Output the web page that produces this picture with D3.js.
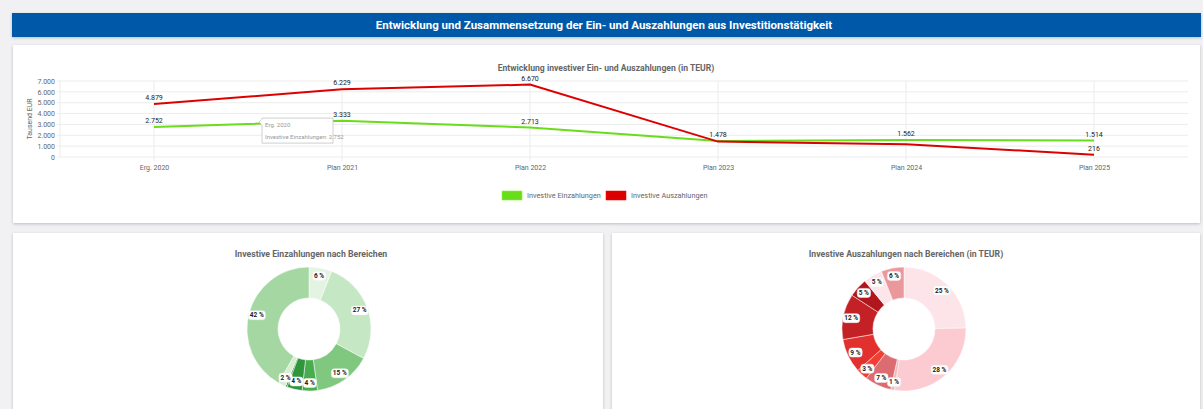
<!DOCTYPE html>
<html lang="de">
<head>
<meta charset="UTF-8">
<title>Investitionstätigkeit</title>
<style type="text/css">
  body { margin: 0; background: #f1f1f3; font-family: Roboto, "Noto Sans", sans-serif; }
  svg text { font-family: Roboto, "Noto Sans", sans-serif; }
  .grid line { stroke: #ececec; stroke-width: 1px; }
  .axis text { fill: #666; font-size: 7px; }
  .axis path, .axis line { stroke: #e6e6e6; }
</style>
</head>
<body>
<svg id="chart" width="1203" height="409"></svg>

<script src="https://cdn.jsdelivr.net/npm/d3@7"></script>
<script>
"use strict";

// --- data ---
var years = ["Erg. 2020", "Plan 2021", "Plan 2022", "Plan 2023", "Plan 2024", "Plan 2025"];
var einzahlungen = [2752, 3333, 2713, 1478, 1562, 1514];
var auszahlungen = [4879, 6229, 6670, 1420, 1170, 216];
var yTicks = [0, 1000, 2000, 3000, 4000, 5000, 6000, 7000];

// pie shares (clockwise from top)
var einBereiche = [6, 27, 15, 4, 4, 0.4, 2, 42];
var ausBereiche = [25, 28, 1, 7, 3, 9, 12, 5, 5, 6];

var greenColors = ["#e4f4e2", "#c6e7c3", "#80c880", "#48ad4f", "#2f963c", "#1c7a2c", "#d6efd3", "#a4d7a1"];
var redColors = ["#fde4e8", "#fccbd1", "#f3b5ba", "#dc6c72", "#f23f33", "#e2302f", "#c42126", "#b0161c", "#fde6e9", "#eb989d"];

var de = d3.formatLocale({decimal: ",", thousands: ".", grouping: [3], currency: ["", " €"]});
var fmt = de.format(",d");

var svg = d3.select("#chart");

// drop shadow for cards
var defs = svg.append("defs");
var f = defs.append("filter").attr("id", "shadow").attr("x", "-5%").attr("y", "-5%").attr("width", "110%").attr("height", "120%");
f.append("feDropShadow").attr("dx", 0).attr("dy", 1).attr("stdDeviation", 1.5).attr("flood-color", "#000").attr("flood-opacity", 0.22);

// header bar
svg.append("rect").attr("x", 12).attr("y", 13).attr("width", 1189).attr("height", 24)
  .attr("fill", "#0059a8").attr("filter", "url(#shadow)");
svg.append("text").attr("x", 604).attr("y", 25).attr("text-anchor", "middle").attr("dominant-baseline", "central")
  .attr("fill", "#fff").attr("font-size", "11.5px").attr("font-weight", "bold")
  .text("Entwicklung und Zusammensetzung der Ein- und Auszahlungen aus Investitionstätigkeit");

// cards
var cards = [[13, 45, 1187, 178], [13, 233, 590, 190], [612, 233, 588, 190]];
svg.selectAll("rect.card").data(cards).enter().append("rect").attr("class", "card")
  .attr("x", function(d){return d[0];}).attr("y", function(d){return d[1];})
  .attr("width", function(d){return d[2];}).attr("height", function(d){return d[3];})
  .attr("fill", "#fff").attr("filter", "url(#shadow)");

// ---- line chart ----
var x = d3.scalePoint().domain(years).range([60, 1188]).padding(0.5);
var y = d3.scaleLinear().domain([0, 7000]).range([157, 81]);

svg.append("text").attr("x", 606).attr("y", 68).attr("text-anchor", "middle").attr("dominant-baseline", "central")
  .attr("fill", "#666").attr("font-size", "8.6px").attr("font-weight", "bold")
  .text("Entwicklung investiver Ein- und Auszahlungen (in TEUR)");

var grid = svg.append("g").attr("class", "grid");
grid.selectAll("line.h").data(yTicks).enter().append("line").attr("class", "h")
  .attr("x1", 57).attr("x2", 1188).attr("y1", function(d){return y(d);}).attr("y2", function(d){return y(d);});
grid.selectAll("line.v").data(years).enter().append("line").attr("class", "v")
  .attr("x1", function(d){return x(d);}).attr("x2", function(d){return x(d);})
  .attr("y1", 81).attr("y2", 161);
grid.append("line").attr("x1", 60).attr("x2", 60).attr("y1", 81).attr("y2", 157);

var yAxis = svg.append("g").attr("class", "axis").attr("color", "#666").attr("transform", "translate(57,0)")
  .call(d3.axisLeft(y).tickValues(yTicks).tickFormat(fmt).tickSize(0).tickPadding(2));
yAxis.select(".domain").remove();

var xAxis = svg.append("g").attr("class", "axis").attr("color", "#666").attr("transform", "translate(0,161)")
  .call(d3.axisBottom(x).tickSize(0).tickPadding(4));
xAxis.select(".domain").remove();

svg.append("text").attr("transform", "translate(30,119) rotate(-90)").attr("text-anchor", "middle")
  .attr("dominant-baseline", "central").attr("fill", "#666").attr("font-size", "7px").text("Tausend EUR");

var series = [
  {name: "Investive Einzahlungen", values: einzahlungen, color: "#6add1a"},
  {name: "Investive Auszahlungen", values: auszahlungen, color: "#dd0000"}
];

var line = d3.line().x(function(d, i){return x(years[i]);}).y(function(d){return y(d);});

series.forEach(function(s) {
  svg.append("path").datum(s.values).attr("d", line)
    .attr("fill", "none").attr("stroke", s.color).attr("stroke-width", 2);
});

// data labels, hide overlapping ones
var placed = [];
series.forEach(function(s) {
  s.values.forEach(function(v, i) {
    var cx = x(years[i]), cy = y(v) - 6;
    var box = {x0: cx - 11, x1: cx + 11, y0: cy - 4, y1: cy + 4};
    var hit = placed.some(function(b){return !(box.x1 < b.x0 || box.x0 > b.x1 || box.y1 < b.y0 || box.y0 > b.y1);});
    if (hit) return;
    placed.push(box);
    svg.append("text").attr("x", cx).attr("y", cy).attr("text-anchor", "middle").attr("dominant-baseline", "central")
      .attr("fill", "#222").attr("font-size", "7px").text(fmt(v));
  });
});

// tooltip (hover state in the original)
var tip = svg.append("g").attr("transform", "translate(" + (x(years[0]) + 108) + "," + (y(einzahlungen[0]) - 9) + ")");
tip.append("path").attr("d", "M0,0 H71 V25 H0 V7 L-3,4 L0,1 Z").attr("fill", "#fff").attr("stroke", "#c4c4c4").attr("stroke-width", 0.8);
tip.append("text").attr("x", 3).attr("y", 6.5).attr("dominant-baseline", "central").attr("fill", "#999").attr("font-size", "6px").text(years[0]);
tip.append("text").attr("x", 3).attr("y", 18).attr("dominant-baseline", "central").attr("fill", "#999").attr("font-size", "6px")
  .text(series[0].name + ": " + fmt(einzahlungen[0]));

// legend
var legend = svg.append("g");
var lx = [502, 606];
series.forEach(function(s, i) {
  legend.append("rect").attr("x", lx[i]).attr("y", 191).attr("width", 20).attr("height", 9)
    .attr("fill", s.color).attr("stroke", d3.color(s.color).brighter(0.6)).attr("stroke-width", 0.5);
  legend.append("text").attr("x", lx[i] + 25).attr("y", 195.5).attr("dominant-baseline", "central")
    .attr("fill", "#666").attr("font-size", "7.3px").text(s.name);
});

// ---- donuts ----
function donut(cx, cy, title, values, colors) {
  svg.append("text").attr("x", cx + 2).attr("y", 254).attr("text-anchor", "middle").attr("dominant-baseline", "central")
    .attr("fill", "#666").attr("font-size", "8.7px").attr("font-weight", "bold").text(title);
  var total = d3.sum(values);
  var arcs = d3.pie().sort(null).value(function(d){return d;})(values);
  var arc = d3.arc().innerRadius(31).outerRadius(62);
  var labelArc = d3.arc().innerRadius(54).outerRadius(54);
  var g = svg.append("g").attr("transform", "translate(" + cx + "," + cy + ")");
  g.selectAll("path").data(arcs).enter().append("path").attr("d", arc)
    .attr("fill", function(d, i){return colors[i];}).attr("stroke", "#fff").attr("stroke-width", 0.5);
  arcs.forEach(function(a) {
    var pct = Math.round(a.data / total * 100);
    if (pct < 1) return;
    var c = labelArc.centroid(a);
    var t = g.append("text").attr("x", c[0]).attr("y", c[1]).attr("text-anchor", "middle").attr("dominant-baseline", "central")
      .attr("fill", "#222").attr("font-size", "6.5px").attr("font-weight", "bold").text(pct + " %");
    var bb = t.node().getBBox();
    g.insert("rect", function(){return t.node();}).attr("x", bb.x - 1.5).attr("y", bb.y - 0.5)
      .attr("width", bb.width + 3).attr("height", bb.height + 1).attr("rx", 3)
      .attr("fill", "#fff").attr("stroke", "#eee").attr("stroke-width", 0.5);
  });
}

donut(309, 329, "Investive Einzahlungen nach Bereichen", einBereiche, greenColors);
donut(904, 329, "Investive Auszahlungen nach Bereichen (in TEUR)", ausBereiche, redColors);
</script>
</body>
</html>
